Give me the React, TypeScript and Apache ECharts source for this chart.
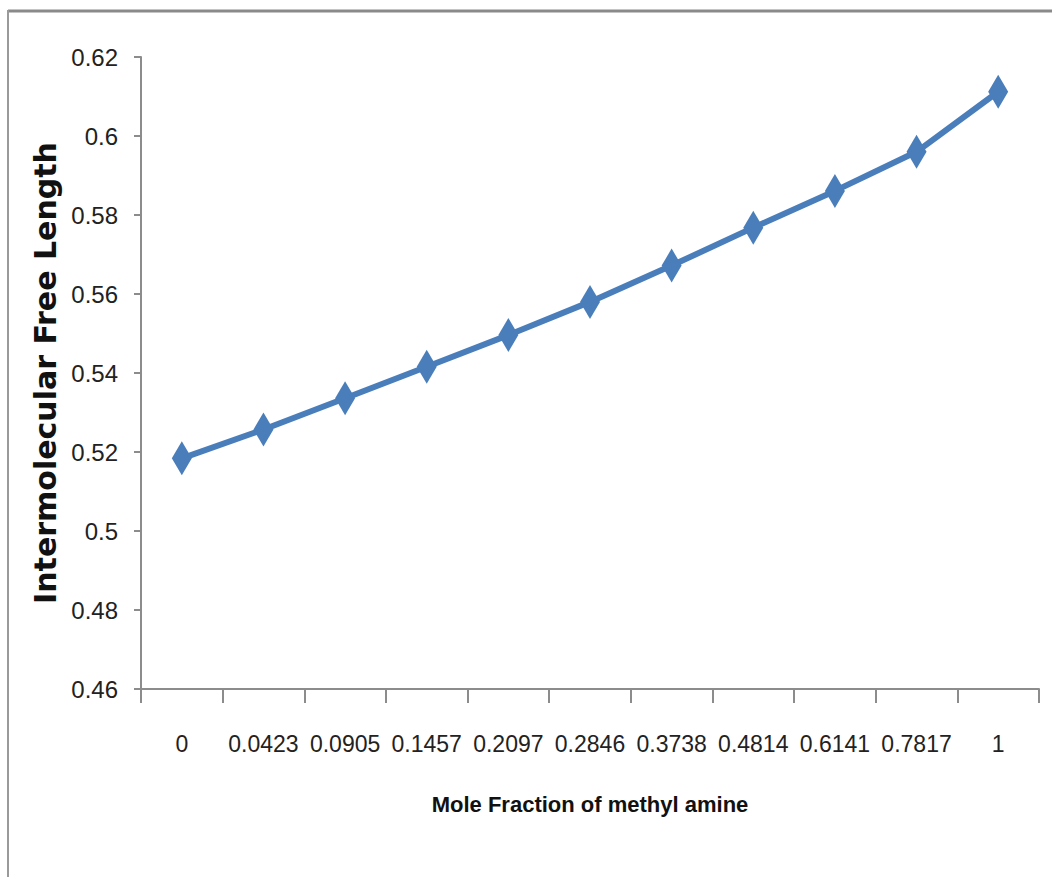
import React, { useEffect, useRef } from "react";
import * as echarts from "echarts";

const categories = ["0", "0.0423", "0.0905", "0.1457", "0.2097", "0.2846", "0.3738", "0.4814", "0.6141", "0.7817", "1"];
const freeLength = [0.5184, 0.5257, 0.5336, 0.5416, 0.5496, 0.558, 0.5672, 0.5768, 0.5861, 0.596, 0.6112];
const xTitle = "Mole Fraction of methyl amine";
const yTitle = "Intermolecular Free Length";

const sans = "'Liberation Sans', Arial, sans-serif";

export default function App() {
  const ref = useRef<HTMLDivElement>(null);
  useEffect(() => {
    if (!ref.current) return;
    const chart = echarts.init(ref.current, null, { renderer: "svg" });
    chart.setOption({
      animation: false,
      backgroundColor: "#ffffff",
      graphic: [
        { type: "line", shape: { x1: 8, y1: 11, x2: 1052, y2: 11 }, style: { stroke: "#8a8a8a", lineWidth: 3 } },
        { type: "line", shape: { x1: 8, y1: 10, x2: 8, y2: 877 }, style: { stroke: "#9a9a9a", lineWidth: 2 } },
      ],
      grid: { left: 141, top: 57, width: 898, height: 632, containLabel: false },
      xAxis: {
        type: "category",
        data: categories,
        boundaryGap: true,
        axisLine: { lineStyle: { color: "#8c8c8c", width: 2 } },
        axisTick: { show: true, length: 14, lineStyle: { color: "#8c8c8c", width: 2 } },
        axisLabel: { color: "#222", fontFamily: sans, fontSize: 23, margin: 43, interval: 0 },
        name: xTitle,
        nameLocation: "middle",
        nameGap: 104,
        nameTextStyle: { color: "#111", fontFamily: sans, fontSize: 22, fontWeight: "bold" },
        splitLine: { show: false },
      },
      yAxis: {
        type: "value",
        min: 0.46,
        max: 0.62,
        interval: 0.02,
        axisLine: { show: true, lineStyle: { color: "#8c8c8c", width: 2 } },
        axisTick: { show: true, length: 7, lineStyle: { color: "#8c8c8c", width: 2 } },
        axisLabel: { color: "#222", fontFamily: sans, fontSize: 24, margin: 23 },
        splitLine: { show: false },
        name: yTitle,
        nameLocation: "middle",
        nameRotate: 90,
        nameGap: 48,
        nameTextStyle: { color: "#111", fontFamily: "'DejaVu Sans', sans-serif", fontSize: 30, fontWeight: "bold" },
      },
      series: [
        {
          type: "line",
          data: freeLength,
          symbol: "diamond",
          symbolSize: [20, 34],
          lineStyle: { color: "#4a7ebb", width: 6 },
          itemStyle: { color: "#4a7ebb" },
        },
      ],
    });
    return () => chart.dispose();
  }, []);
  return <div ref={ref} style={{ position: "fixed", left: 0, top: 0, width: 1052, height: 877 }} />;
}
